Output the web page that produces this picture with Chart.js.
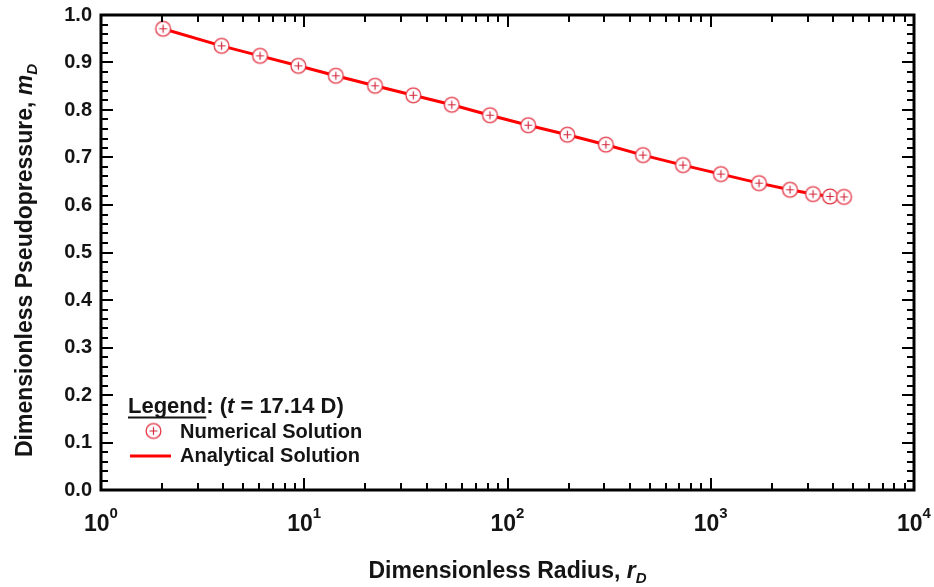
<!DOCTYPE html>
<html>
<head>
<meta charset="utf-8">
<script src="https://cdn.jsdelivr.net/npm/chart.js@4/dist/chart.umd.min.js"></script>
<style>
  html, body { margin: 0; padding: 0; background: #ffffff; }
  #wrap { position: relative; width: 934px; height: 587px; }
</style>
</head>
<body>
<div id="wrap"><canvas id="c" width="934" height="587"></canvas></div>
<script>
// ---- data ----
const radiusRD = [2.02, 3.92, 6.06, 9.35, 14.3, 22.3, 34.4, 53.2, 82.0, 126.5, 197, 305, 464, 730, 1122, 1728, 2455, 3186, 3863, 4527];
const numericalMD = [0.971, 0.935, 0.914, 0.893, 0.872, 0.851, 0.831, 0.811, 0.789, 0.768, 0.748, 0.727, 0.705, 0.684, 0.665, 0.646, 0.632, 0.623, 0.618, 0.617];
const analyticalMD = [0.971, 0.935, 0.914, 0.893, 0.872, 0.851, 0.831, 0.811, 0.789, 0.768, 0.748, 0.727, 0.705, 0.684, 0.665, 0.646, 0.632, 0.623, 0.618, 0.617];
const xTickValues = [1, 10, 100, 1000, 10000];
const xTickExponents = ['0', '1', '2', '3', '4'];
const legendLabels = ['Numerical Solution', 'Analytical Solution'];
const legendTime = '17.14 D';

const FONT = '"Liberation Sans", Arial, Helvetica, sans-serif';
const TEXT = '#141414';
const LINE_RED = '#ff0000';
const MARK_RED = '#e33444';

// marker: open circle with a plus
function makeMarker() {
  const s = 19, c = document.createElement('canvas');
  c.width = s; c.height = s;
  const g = c.getContext('2d');
  const m = s / 2;
  g.beginPath(); g.arc(m, m, 7.4, 0, Math.PI * 2);
  g.fillStyle = '#ffffff'; g.fill();
  g.lineWidth = 1.3; g.strokeStyle = MARK_RED; g.stroke();
  g.beginPath();
  g.moveTo(m - 4, m); g.lineTo(m + 4, m);
  g.moveTo(m, m - 4); g.lineTo(m, m + 4);
  g.lineWidth = 1.2; g.strokeStyle = '#d42a40'; g.stroke();
  return c;
}
const marker = makeMarker();

function drawRich(ctx, parts, x, y, align) {
  let total = 0;
  parts.forEach(p => {
    ctx.font = (p.italic ? 'italic ' : '') + 'bold ' + p.size + 'px ' + FONT;
    p.w = ctx.measureText(p.t).width;
    total += p.w;
  });
  let cx = align === 'center' ? x - total / 2 : x;
  parts.forEach(p => {
    ctx.font = (p.italic ? 'italic ' : '') + 'bold ' + p.size + 'px ' + FONT;
    ctx.fillText(p.t, cx, y + (p.dy || 0));
    p.x = cx;
    cx += p.w;
  });
  return parts;
}

const framePlugin = {
  id: 'framePlugin',
  afterDraw(chart) {
    const ctx = chart.ctx;
    const a = chart.chartArea;
    const xs = chart.scales.x, ys = chart.scales.y;
    ctx.save();
    ctx.strokeStyle = '#000';
    ctx.lineCap = 'butt';
    ctx.lineWidth = 2;
    for (let i = 0; i <= 50; i++) {
      const v = i * 0.02;
      const py = Math.round(ys.getPixelForValue(v));
      const major = i % 5 === 0;
      const len = major ? 12 : 7;
      ctx.beginPath();
      ctx.moveTo(a.left, py); ctx.lineTo(a.left + len, py);
      ctx.moveTo(a.right, py); ctx.lineTo(a.right - len, py);
      ctx.stroke();
    }
    for (let d = 0; d < 4; d++) {
      for (let k = 1; k <= 9; k++) {
        const v = k * Math.pow(10, d);
        const px = Math.round(xs.getPixelForValue(v));
        const len = k === 1 ? 12 : 7;
        ctx.beginPath();
        ctx.moveTo(px, a.bottom); ctx.lineTo(px, a.bottom - len);
        ctx.moveTo(px, a.top); ctx.lineTo(px, a.top + len);
        ctx.stroke();
      }
    }
    ctx.lineWidth = 3;
    ctx.strokeRect(a.left, a.top, a.right - a.left, a.bottom - a.top);

    ctx.fillStyle = TEXT;
    ctx.textBaseline = 'alphabetic';
    ctx.textAlign = 'left';
    xTickValues.forEach((v, i) => {
      const px = xs.getPixelForValue(v);
      drawRich(ctx, [
        { t: '10', size: 23 },
        { t: xTickExponents[i], size: 15, dy: -13 }
      ], px, 531, 'center');
    });

    drawRich(ctx, [
      { t: 'Dimensionless Radius, ', size: 23 },
      { t: 'r', size: 23, italic: true },
      { t: 'D', size: 15, italic: true, dy: 5 }
    ], (a.left + a.right) / 2, 578, 'center');

    ctx.save();
    ctx.translate(32, (a.top + a.bottom) / 2 + 8);
    ctx.rotate(-Math.PI / 2);
    drawRich(ctx, [
      { t: 'Dimensionless Pseudopressure, ', size: 23 },
      { t: 'm', size: 23, italic: true },
      { t: 'D', size: 15, italic: true, dy: 5 }
    ], 0, 0, 'center');
    ctx.restore();

    const lx = 128;
    const parts = drawRich(ctx, [
      { t: 'Legend', size: 22 },
      { t: ': (', size: 22 },
      { t: 't', size: 22, italic: true },
      { t: ' = ' + legendTime + ')', size: 22 }
    ], lx, 413, 'left');
    ctx.lineWidth = 2;
    ctx.strokeStyle = TEXT;
    ctx.beginPath();
    ctx.moveTo(parts[0].x, 417.5); ctx.lineTo(parts[0].x + parts[0].w, 417.5);
    ctx.stroke();
    ctx.drawImage(marker, 153.5 - marker.width / 2, 431 - marker.height / 2);
    ctx.font = 'bold 20px ' + FONT;
    ctx.fillText(legendLabels[0], 180, 437.5);
    ctx.strokeStyle = LINE_RED;
    ctx.lineWidth = 3;
    ctx.beginPath(); ctx.moveTo(130, 456); ctx.lineTo(171, 456); ctx.stroke();
    ctx.fillText(legendLabels[1], 180, 462);
    ctx.restore();
  }
};

const numericalPoints = radiusRD.map((r, i) => ({ x: r, y: numericalMD[i] }));
const analyticalPoints = radiusRD.map((r, i) => ({ x: r, y: analyticalMD[i] }));

new Chart(document.getElementById('c'), {
  type: 'scatter',
  data: {
    datasets: [
      {
        label: legendLabels[0],
        data: numericalPoints,
        showLine: false,
        pointStyle: marker,
        pointRadius: 8,
        pointHoverRadius: 8
      },
      {
        label: legendLabels[1],
        data: analyticalPoints,
        showLine: true,
        borderColor: LINE_RED,
        borderWidth: 3,
        pointRadius: 0,
        pointHoverRadius: 0,
        fill: false,
        tension: 0
      }
    ]
  },
  options: {
    responsive: false,
    animation: false,
    devicePixelRatio: 1,
    layout: { padding: { top: 15, right: 20, left: 0, bottom: 0 } },
    plugins: {
      legend: { display: false },
      tooltip: { enabled: false },
      title: { display: false }
    },
    scales: {
      x: {
        type: 'logarithmic',
        min: 1,
        max: 10000,
        grid: { display: false, drawTicks: false },
        border: { display: false },
        ticks: { display: false },
        afterFit(scale) { scale.height = 97; }
      },
      y: {
        type: 'linear',
        min: 0,
        max: 1,
        grid: { display: false, drawTicks: false },
        border: { display: false },
        ticks: {
          stepSize: 0.1,
          padding: 9,
          color: TEXT,
          font: { family: FONT, size: 20, weight: 'bold' },
          callback: v => v.toFixed(1)
        },
        afterFit(scale) { scale.width = 101; scale.paddingTop = 0; scale.paddingBottom = 0; }
      }
    }
  },
  plugins: [framePlugin]
});
</script>
</body>
</html>
